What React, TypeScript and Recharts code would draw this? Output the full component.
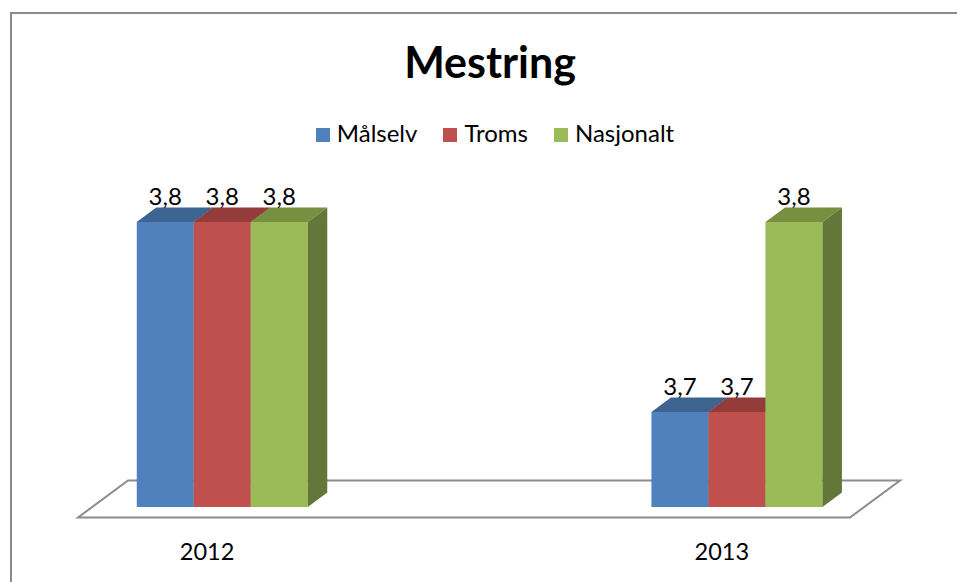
import React from 'react';
import { BarChart, Bar, XAxis, YAxis, LabelList, ReferenceArea } from 'recharts';

const YEARS = [2012, 2013];
const MALSELV = [3.8, 3.7];
const TROMS = [3.8, 3.7];
const NASJONALT = [3.8, 3.8];

const SERIES = [
  { key: 'malselv', name: 'Målselv', front: '#4F81BD', top: '#3D6491', side: '#385E8B' },
  { key: 'troms', name: 'Troms', front: '#C0504D', top: '#943C3A', side: '#8C3836' },
  { key: 'nasjonalt', name: 'Nasjonalt', front: '#9BBB59', top: '#77903F', side: '#637838' },
];

const X_DOMAIN = [2011.72, 2013.22];
const Y_DOMAIN = [3.65, 3.82];

// 3d look
const DX = 19.5;
const DY = 14.5;
const FLOOR_DX = 50;
const FLOOR_DY = 37;
const FLOOR_FRONT = 10.5;

const FONT = 'Lato, "Open Sans", sans-serif';

const data = YEARS.map((year, i) => ({
  year,
  malselv: MALSELV[i],
  troms: TROMS[i],
  nasjonalt: NASJONALT[i],
}));

function Box(props: any) {
  const { x, y, width, height, colors } = props;
  if (width == null || height == null) return null;
  const r = x + width;
  const b = y + height;
  return (
    <g>
      <rect x={x} y={y} width={width} height={height} fill={colors.front} />
      <polygon
        points={`${x},${y} ${x + DX},${y - DY} ${r + DX},${y - DY} ${r},${y}`}
        fill={colors.top}
      />
      <polygon
        points={`${r},${y} ${r + DX},${y - DY} ${r + DX},${b - DY} ${r},${b}`}
        fill={colors.side}
      />
    </g>
  );
}

function Floor(props: any) {
  const { x, y, width, height } = props;
  const b = y + height + FLOOR_FRONT;
  const pts = [
    [x, b],
    [x + width, b],
    [x + width + FLOOR_DX, b - FLOOR_DY],
    [x + FLOOR_DX, b - FLOOR_DY],
  ]
    .map((p) => p.join(','))
    .join(' ');
  return <polygon points={pts} fill="#ffffff" stroke="#8c8c8c" strokeWidth={2} />;
}

function ValueLabel(props: any) {
  const { x, y, width, value } = props;
  return (
    <text
      x={x + width / 2}
      y={y - DY - 3}
      textAnchor="middle"
      fontSize={24}
      fontFamily={FONT}
      fill="#000"
    >
      {String(value).replace('.', ',')}
    </text>
  );
}

function YearTick(props: any) {
  const { x, y, payload } = props;
  return (
    <text x={x - 15} y={y} dy={45} textAnchor="middle" fontSize={23.5} fontFamily={FONT} fill="#000">
      {payload.value}
    </text>
  );
}

export default function App() {
  return (
    <div
      style={{
        position: 'absolute',
        left: 0,
        top: 0,
        width: 957,
        height: 582,
        overflow: 'hidden',
        background: '#fff',
        fontFamily: FONT,
      }}
    >
      <div
        style={{
          position: 'absolute',
          left: 10,
          top: 12,
          width: 1000,
          height: 640,
          border: '2px solid #8a8a8a',
        }}
      />
      <div
        style={{
          position: 'absolute',
          left: 0,
          top: 40,
          width: 980,
          textAlign: 'center',
          fontSize: 43,
          lineHeight: '43px',
          fontWeight: 700,
          color: '#000',
        }}
      >
        Mestring
      </div>
      <div
        style={{
          position: 'absolute',
          left: 0,
          top: 121,
          width: 990,
          display: 'flex',
          justifyContent: 'center',
          fontSize: 24,
          lineHeight: '24px',
          color: '#000',
        }}
      >
        {SERIES.map((s, i) => (
          <div
            key={s.key}
            style={{ display: 'flex', alignItems: 'center', marginLeft: i === 0 ? 0 : 26 }}
          >
            <span
              style={{
                display: 'inline-block',
                width: 14,
                height: 14,
                background: s.front,
                marginRight: 7,
                marginTop: 3,
              }}
            />
            <span>{s.name}</span>
          </div>
        ))}
      </div>
      <div style={{ position: 'absolute', left: 0, top: 0 }}>
        <BarChart
          width={957}
          height={582}
          data={data}
          barGap={0}
          margin={{ top: 184, right: 107, bottom: 45, left: 78 }}
        >
          <XAxis
            type="number"
            dataKey="year"
            domain={X_DOMAIN}
            ticks={YEARS}
            allowDataOverflow
            axisLine={false}
            tickLine={false}
            tick={<YearTick />}
            height={30}
          />
          <YAxis type="number" domain={Y_DOMAIN} allowDataOverflow hide />
          <ReferenceArea
            x1={X_DOMAIN[0]}
            x2={X_DOMAIN[1]}
            y1={Y_DOMAIN[0]}
            y2={Y_DOMAIN[1]}
            ifOverflow="visible"
            shape={<Floor />}
          />
          {SERIES.map((s) => (
            <Bar
              key={s.key}
              dataKey={s.key}
              name={s.name}
              barSize={57}
              isAnimationActive={false}
              shape={(p: any) => <Box {...p} colors={s} />}
            >
              <LabelList dataKey={s.key} content={<ValueLabel />} />
            </Bar>
          ))}
        </BarChart>
      </div>
    </div>
  );
}
